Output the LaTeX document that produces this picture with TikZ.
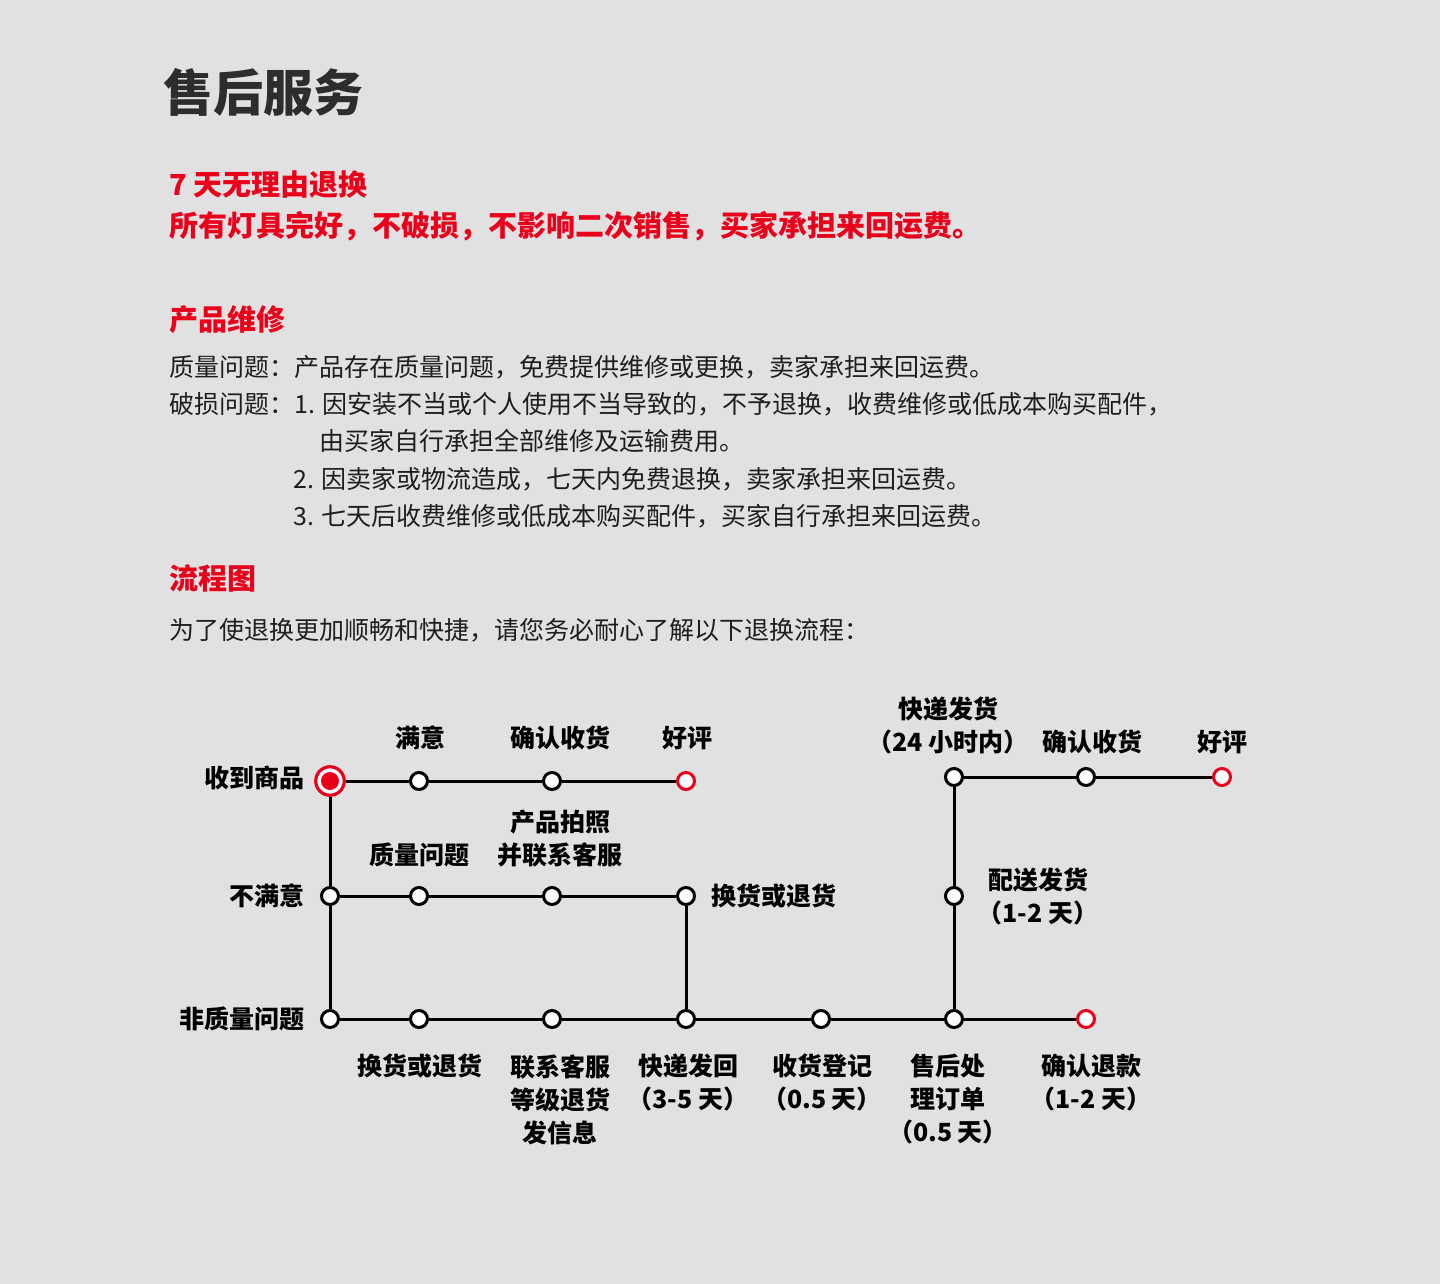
\documentclass[tikz,border=0pt]{standalone}
\usepackage{fontspec}
\setmainfont{Noto Sans CJK SC}
\usepackage{tikz}
\usetikzlibrary{positioning}
\definecolor{bggray}{RGB}{225,225,225}
\definecolor{hired}{RGB}{235,0,28}
\definecolor{titlegray}{RGB}{45,45,45}
\definecolor{bodyblack}{RGB}{30,30,30}

\begin{document}
\begin{tikzpicture}[x=1pt,y=-1pt,
    station/.style={circle,draw=black,fill=white,line width=3pt,minimum size=17pt,inner sep=0pt},
    endstation/.style={station,draw=hired},
    conn/.style={line width=3pt,black},
    lbl/.style={inner sep=0pt,align=center,text=black,font=\fontsize{25}{33}\selectfont\bfseries},
    redhead/.style={anchor=west,inner sep=0pt,text=hired,font=\fontsize{29}{34}\selectfont\bfseries},
    body/.style={anchor=west,inner sep=0pt,text=bodyblack,font=\fontsize{25}{30}\selectfont}]
    \fill[bggray] (0,0) rectangle (1440,1284); %背景

    %文字部分
    \node[anchor=west,inner sep=0pt,text=titlegray,font=\fontsize{50}{60}\selectfont\bfseries] (title) at (163,92) {售后服务};
    \node[redhead] (seven) at (169,185) {7 天无理由退换};
    \node[redhead] (sevennote) at (169,226) {所有灯具完好，不破损，不影响二次销售，买家承担来回运费。};
    \node[redhead] (repair) at (169,320) {产品维修};
    \node[body] (quality) at (169,367) {质量问题：产品存在质量问题，免费提供维修或更换，卖家承担来回运费。};
    \node[body] (brokena) at (169,404) {破损问题：1. 因安装不当或个人使用不当导致的，不予退换，收费维修或低成本购买配件，};
    \node[body] (brokenb) at (319,441) {由买家自行承担全部维修及运输费用。};
    \node[body] (brokenc) at (293,479) {2. 因卖家或物流造成，七天内免费退换，卖家承担来回运费。};
    \node[body] (brokend) at (293,516) {3. 七天后收费维修或低成本购买配件，买家自行承担来回运费。};
    \node[redhead] (flow) at (169,578) {流程图};
    \node[body] (flownote) at (169,630) {为了使退换更加顺畅和快捷，请您务必耐心了解以下退换流程：};

    %流程图の点
    \node[circle,draw=hired,fill=white,line width=3.2pt,minimum size=28.5pt,inner sep=0pt] (start) at (330,781) {};
    \fill[hired] (start.center) circle (9);
    \node[station] (ok) at (419,781) {};
    \node[station] (okget) at (552,781) {};
    \node[endstation] (okgood) at (686,781) {};

    \node[station] (ng) at (330,896) {};
    \node[station] (ngq) at (419,896) {};
    \node[station] (ngphoto) at (552,896) {};
    \node[station] (ngswap) at (686,896) {};

    \node[station] (nq) at (330,1019) {};
    \node[station] (nqswap) at (419,1019) {};
    \node[station] (nqcs) at (552,1019) {};
    \node[station] (nqback) at (686,1019) {};
    \node[station] (nqreg) at (821,1019) {};
    \node[station] (nqorder) at (954,1019) {};
    \node[endstation] (nqrefund) at (1086,1019) {};

    \node[station] (ship) at (954,896) {};
    \node[station] (send) at (954,777) {};
    \node[station] (sendget) at (1086,777) {};
    \node[endstation] (sendgood) at (1222,777) {};

    %線
    \draw[conn] (start) -- (ok) -- (okget) -- (okgood);
    \draw[conn] (start) -- (ng) -- (nq);
    \draw[conn] (ng) -- (ngq) -- (ngphoto) -- (ngswap) -- (nqback);
    \draw[conn] (nq) -- (nqswap) -- (nqcs) -- (nqback) -- (nqreg) -- (nqorder) -- (nqrefund);
    \draw[conn] (nqorder) -- (ship) -- (send) -- (sendget) -- (sendgood);

    %ラベル
    \node[lbl,anchor=east] (startlbl) at (305,778) {收到商品};
    \node[lbl] (oklbl) at (420,738) {满意};
    \node[lbl] (okgetlbl) at (560,738) {确认收货};
    \node[lbl] (okgoodlbl) at (687,738) {好评};

    \node[lbl,anchor=east] (nglbl) at (305,896) {不满意};
    \node[lbl] (ngqlbl) at (419,855) {质量问题};
    \node[lbl] (ngphotolbl) at (560,838.5) {产品拍照\\并联系客服};
    \node[lbl,anchor=west] (ngswaplbl) at (711,896) {换货或退货};

    \node[lbl,anchor=east] (nqlbl) at (305,1019) {非质量问题};
    \node[lbl] (nqswaplbl) at (420,1066) {换货或退货};
    \node[lbl] (nqcslbl) at (560,1099.5) {联系客服\\等级退货\\发信息};
    \node[lbl] (nqbacklbl) at (688,1082.5) {快递发回\\（3-5 天）};
    \node[lbl] (nqreglbl) at (822,1082.5) {收货登记\\（0.5 天）};
    \node[lbl] (nqorderlbl) at (948,1099.5) {售后处\\理订单\\（0.5 天）};
    \node[lbl] (nqrefundlbl) at (1091,1082.5) {确认退款\\（1-2 天）};

    \node[lbl] (shiplbl) at (1038,896.5) {配送发货\\（1-2 天）};
    \node[lbl] (sendlbl) at (948,725.5) {快递发货\\（24 小时内）};
    \node[lbl] (sendgetlbl) at (1092,742) {确认收货};
    \node[lbl] (sendgoodlbl) at (1222,742) {好评};
\end{tikzpicture}
\end{document}
